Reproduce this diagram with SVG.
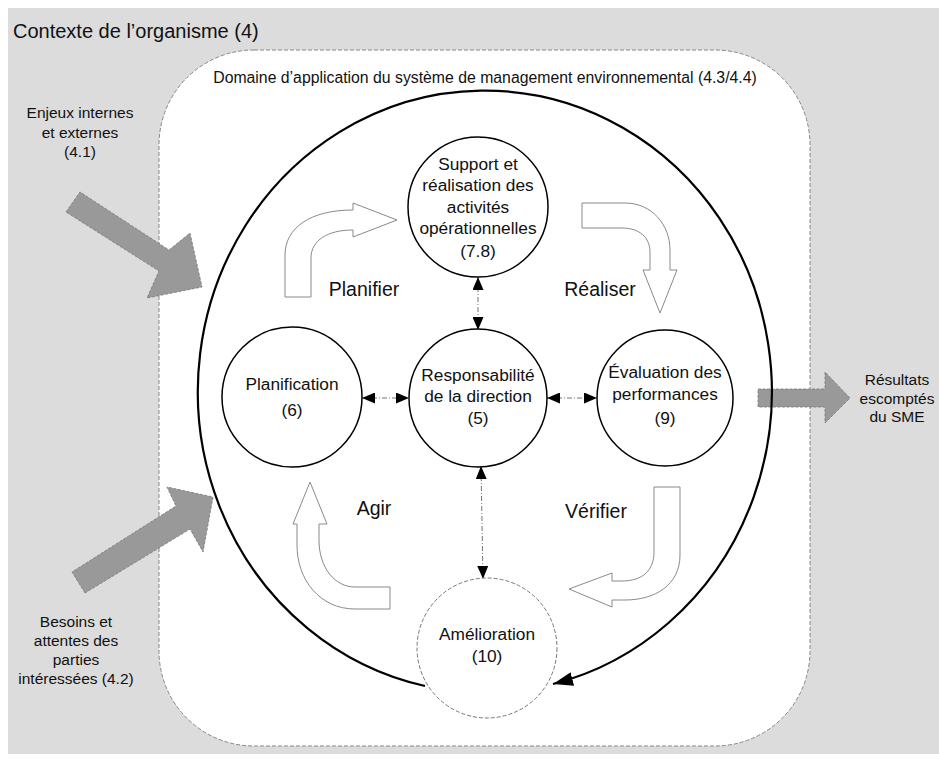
<svg xmlns="http://www.w3.org/2000/svg" width="939" height="766" viewBox="0 0 939 766">
<style>
text{font-family:"Liberation Sans",Arial,sans-serif;fill:#111;text-anchor:middle}
.node{fill:#fff;stroke:#000;stroke-width:1.5}
.imp{fill:#fff;stroke:#777;stroke-width:1;stroke-dasharray:4 2}
.hollow{fill:#fff;stroke:#8a8a8a;stroke-width:1}
.gray{fill:#999;stroke:#777;stroke-width:0.8;stroke-dasharray:3 1.5}
.link{fill:none;stroke:#777;stroke-width:1;stroke-dasharray:5 2 1 2}
.t15{font-size:17.3px}
.t14{font-size:15.5px}
.lbl{font-size:19.5px}
</style>
<defs>
<marker id="ah" viewBox="0 0 13 11" refX="13" refY="5.5" markerWidth="13" markerHeight="11" markerUnits="userSpaceOnUse" orient="auto-start-reverse">
<path d="M0,0 L13,5.5 L0,11 Z" fill="#000"/>
</marker>
<marker id="big" viewBox="0 0 20 14" refX="20" refY="7" markerWidth="20" markerHeight="14" markerUnits="userSpaceOnUse" orient="auto">
<path d="M0,0 L20,7 L0,14 Z" fill="#000"/>
</marker>
</defs>
<g id="context">
<rect x="8" y="8" width="931" height="746" fill="#dcdcdc"/>
<text x="13" y="38" style="font-size:20px;text-anchor:start">Contexte de l’organisme (4)</text>
</g>
<g id="domain">
<rect x="159" y="50" width="651" height="696" rx="95" ry="95" fill="#fff" stroke="#888" stroke-width="1" stroke-dasharray="4 2"/>
<text x="485" y="83" style="font-size:15.8px">Domaine d’application du système de management environnemental (4.3/4.4)</text>
</g>
<g id="inputs">
<polygon class="gray" points="66,212 80,192 169,250 190,233 202,287 147,298 159,271"/>
<text class="t14" x="80" y="118">Enjeux internes</text>
<text class="t14" x="80" y="138">et externes</text>
<text class="t14" x="80" y="157">(4.1)</text>
<polygon class="gray" points="85,593 72,572 176,506 167,487 213,497 203,552 190,529"/>
<text class="t14" x="76" y="627">Besoins et</text>
<text class="t14" x="76" y="646">attentes des</text>
<text class="t14" x="76" y="665">parties</text>
<text class="t14" x="76" y="684">intéressées (4.2)</text>
</g>
<g id="outputs">
<polygon class="gray" points="758,389 825,389 825,372 850,398 825,423 825,407 758,407"/>
<text class="t14" x="897" y="385">Résultats</text>
<text class="t14" x="897" y="404">escomptés</text>
<text class="t14" x="897" y="422">du SME</text>
</g>
<g id="connectors">
<path d="M425,686 A287,301 0 1 1 553,684" fill="none" stroke="#000" stroke-width="2.2" marker-end="url(#big)"/>
<line class="link" x1="478" y1="277" x2="478" y2="330" marker-start="url(#ah)" marker-end="url(#ah)"/>
<line class="link" x1="362" y1="398" x2="409" y2="398" marker-start="url(#ah)" marker-end="url(#ah)"/>
<line class="link" x1="547" y1="398" x2="597" y2="398" marker-start="url(#ah)" marker-end="url(#ah)"/>
<line class="link" x1="481" y1="466" x2="483" y2="579" marker-start="url(#ah)" marker-end="url(#ah)"/>
</g>
<g id="cycle-arrows">
<path class="hollow" d="M285,297 L285,255 C285,228 310,210 353,210 L353,203 L397,220 L353,237 L353,230 C328,230 311,240 311,258 L311,297 Z"/>
<path class="hollow" d="M582,203 L625,203 C652,203 670,225 670,250 L670,270 L677,270 L660,313 L643,270 L650,270 L650,252 C650,238 640,228 622,228 L582,228 Z"/>
<path class="hollow" d="M654,487 L680,487 L680,555 C680,585 655,600 625,600 L612,600 L612,607 L569,589 L612,573 L612,581 L622,581 C643,581 654,570 654,552 Z"/>
<path class="hollow" d="M310,482 L327,524 L319,524 L319,540 C319,568 335,587 355,587 L390,587 L390,609 L355,609 C320,609 297,580 297,545 L297,524 L293,524 Z"/>
<text class="lbl" x="364" y="296">Planifier</text>
<text class="lbl" x="600" y="296">Réaliser</text>
<text class="lbl" x="374" y="515">Agir</text>
<text class="lbl" x="596" y="518">Vérifier</text>
</g>
<g id="support">
<circle class="node" cx="478" cy="207" r="70"/>
<text class="t15" x="478" y="170">Support et</text>
<text class="t15" x="478" y="191">réalisation des</text>
<text class="t15" x="478" y="213">activités</text>
<text class="t15" x="478" y="234">opérationnelles</text>
<text class="t15" x="478" y="257">(7.8)</text>
</g>
<g id="responsabilite">
<circle class="node" cx="478" cy="398" r="69"/>
<text class="t15" x="478" y="381">Responsabilité</text>
<text class="t15" x="478" y="402">de la direction</text>
<text class="t15" x="478" y="424">(5)</text>
</g>
<g id="planification">
<circle class="node" cx="292" cy="397" r="70"/>
<text class="t15" x="292" y="390">Planification</text>
<text class="t15" x="292" y="416">(6)</text>
</g>
<g id="evaluation">
<circle class="node" cx="665" cy="398" r="68"/>
<text class="t15" x="665" y="378">Évaluation des</text>
<text class="t15" x="665" y="400">performances</text>
<text class="t15" x="665" y="424">(9)</text>
</g>
<g id="amelioration">
<circle class="imp" cx="487" cy="648" r="70"/>
<text class="t15" x="487" y="640">Amélioration</text>
<text class="t15" x="487" y="662">(10)</text>
</g>
</svg>
